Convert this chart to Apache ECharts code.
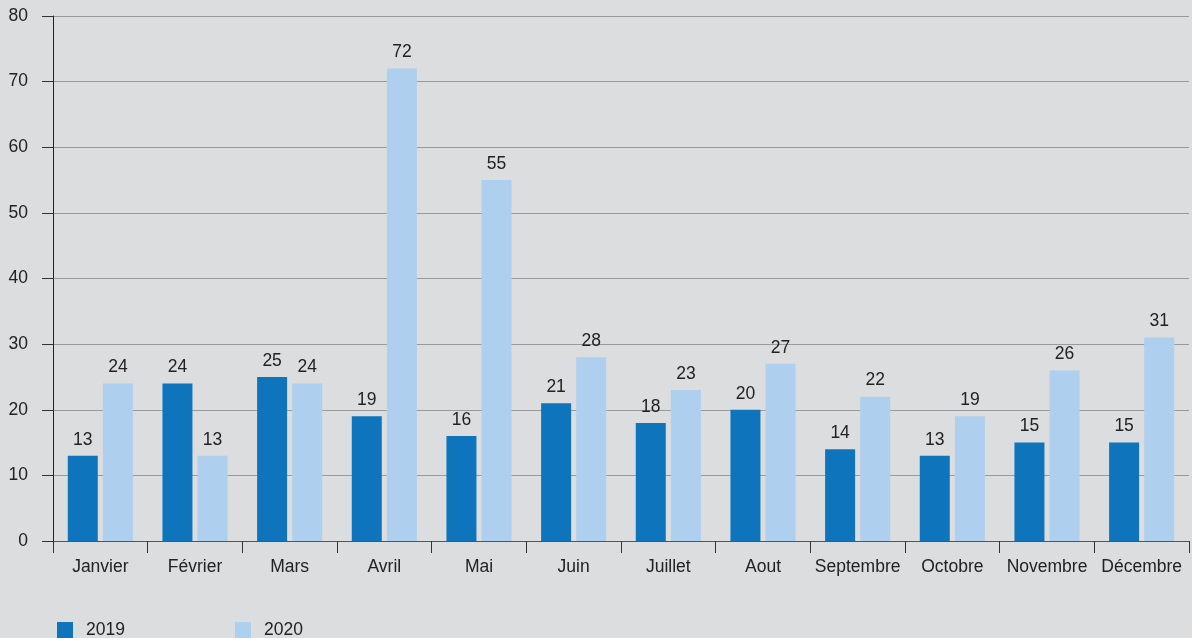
<!DOCTYPE html>
<html>
<head>
<meta charset="utf-8">
<script src="https://cdn.jsdelivr.net/npm/echarts@6/dist/echarts.min.js"></script>
<style>
  html, body { margin: 0; padding: 0; background: #dcdddf; }
  #main { width: 1192px; height: 638px; }
</style>
</head>
<body>
<div id="main"></div>
<script>
var months = ['Janvier', 'Février', 'Mars', 'Avril', 'Mai', 'Juin', 'Juillet', 'Aout', 'Septembre', 'Octobre', 'Novembre', 'Décembre'];
var values2019 = [13, 24, 25, 19, 16, 21, 18, 20, 14, 13, 15, 15];
var values2020 = [24, 13, 24, 72, 55, 28, 23, 27, 22, 19, 26, 31];

var myChart = echarts.init(document.getElementById('main'));

var labelStyle = {
    show: true,
    position: 'top',
    distance: 7,
    fontFamily: 'Liberation Sans, Arial, sans-serif',
    fontSize: 17.5,
    color: '#222'
};

myChart.setOption({
    backgroundColor: '#dcdddf',
    animation: false,
    textStyle: { fontFamily: 'Liberation Sans, Arial, sans-serif' },
    grid: {
        left: 53,
        right: 3,
        top: 16,
        bottom: 97
    },
    legend: {
        left: 57,
        top: 621,
        padding: 0,
        itemWidth: 16,
        itemHeight: 16,
        itemGap: 110,
        icon: 'rect',
        textStyle: {
            fontSize: 17.5,
            color: '#222',
            padding: [0, 0, 0, 8]
        },
        data: ['2019', '2020']
    },
    xAxis: {
        type: 'category',
        data: months,
        axisLine: { lineStyle: { color: '#555', width: 1 } },
        axisTick: { show: true, length: 12, lineStyle: { color: '#333' } },
        axisLabel: { fontSize: 17.5, color: '#222', margin: 17, interval: 0 }
    },
    yAxis: {
        type: 'value',
        min: 0,
        max: 80,
        interval: 10,
        axisLine: { show: true, lineStyle: { color: '#222', width: 1 } },
        axisTick: { show: true, length: 11, lineStyle: { color: '#333' } },
        axisLabel: { fontSize: 17.5, color: '#222', margin: 25 },
        splitLine: { lineStyle: { color: '#9a9a9a', width: 1 } }
    },
    series: [
        {
            name: '2019',
            type: 'bar',
            data: values2019,
            barWidth: 30,
            barGap: '17%',
            itemStyle: { color: '#0e74bc' },
            label: labelStyle
        },
        {
            name: '2020',
            type: 'bar',
            data: values2020,
            barWidth: 30,
            barGap: '17%',
            itemStyle: { color: '#aecfed' },
            label: labelStyle
        }
    ]
});
</script>
</body>
</html>
